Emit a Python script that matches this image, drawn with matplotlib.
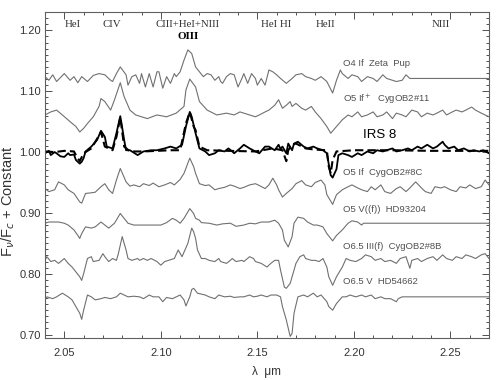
import numpy as np
import matplotlib
matplotlib.use('Agg')
import matplotlib.pyplot as plt
from matplotlib.ticker import MultipleLocator

# --------------------------------------------------------------
# spectra (wavelength in micron, normalised flux + offset)
# --------------------------------------------------------------

zp_lam = [2.040, 2.042, 2.044, 2.046, 2.050, 2.053, 2.055, 2.057, 2.059, 2.062,
          2.065, 2.068, 2.071, 2.074, 2.075, 2.077, 2.079, 2.082, 2.083, 2.085,
          2.087, 2.089, 2.090, 2.092, 2.094, 2.096, 2.098, 2.099, 2.101, 2.103,
          2.105, 2.107, 2.108, 2.110, 2.112, 2.114, 2.116, 2.118, 2.122, 2.124,
          2.126, 2.128, 2.130, 2.131, 2.132, 2.134, 2.136, 2.138, 2.140, 2.142,
          2.143, 2.145, 2.147, 2.149, 2.150, 2.152, 2.154, 2.156, 2.158, 2.160,
          2.162, 2.165, 2.168, 2.170, 2.173, 2.175, 2.178, 2.180, 2.183, 2.186,
          2.189, 2.191, 2.193, 2.194, 2.197, 2.199, 2.202, 2.204, 2.207, 2.210,
          2.212, 2.215, 2.217, 2.220, 2.222, 2.225, 2.227, 2.229, 2.270]
zp_flux = [1.124, 1.118, 1.127, 1.116, 1.129, 1.118, 1.124, 1.114, 1.124, 1.116,
           1.126, 1.129, 1.127, 1.118, 1.116, 1.129, 1.140, 1.127, 1.110, 1.124,
           1.127, 1.113, 1.129, 1.107, 1.129, 1.107, 1.132, 1.132, 1.105, 1.124,
           1.113, 1.129, 1.124, 1.132, 1.151, 1.168, 1.162, 1.140, 1.124, 1.129,
           1.127, 1.118, 1.124, 1.116, 1.113, 1.124, 1.129, 1.127, 1.107, 1.121,
           1.129, 1.113, 1.129, 1.121, 1.110, 1.121, 1.110, 1.135, 1.132, 1.127,
           1.121, 1.113, 1.121, 1.127, 1.129, 1.124, 1.121, 1.118, 1.124, 1.116,
           1.097, 1.118, 1.135, 1.129, 1.121, 1.127, 1.124, 1.116, 1.124, 1.121,
           1.116, 1.127, 1.121, 1.118, 1.116, 1.118, 1.127, 1.121, 1.121]

c11_lam = [2.040, 2.043, 2.046, 2.049, 2.053, 2.056, 2.058, 2.060, 2.062, 2.065,
           2.068, 2.069, 2.071, 2.074, 2.076, 2.079, 2.081, 2.084, 2.087, 2.093,
           2.098, 2.103, 2.108, 2.112, 2.113, 2.115, 2.118, 2.120, 2.124, 2.129,
           2.134, 2.138, 2.141, 2.143, 2.146, 2.149, 2.151, 2.154, 2.156, 2.159,
           2.161, 2.163, 2.165, 2.167, 2.168, 2.170, 2.173, 2.175, 2.178, 2.180,
           2.183, 2.186, 2.188, 2.191, 2.194, 2.197, 2.199, 2.202, 2.204, 2.207,
           2.210, 2.212, 2.215, 2.217, 2.220, 2.222, 2.225, 2.227, 2.230, 2.233,
           2.235, 2.238, 2.241, 2.243, 2.246, 2.248, 2.251, 2.253, 2.256, 2.258,
           2.261, 2.263, 2.266, 2.270]
c11_flux = [1.061, 1.066, 1.069, 1.061, 1.050, 1.042, 1.033, 1.039, 1.047, 1.058,
            1.075, 1.088, 1.083, 1.069, 1.086, 1.114, 1.091, 1.069, 1.061, 1.055,
            1.061, 1.058, 1.064, 1.075, 1.102, 1.120, 1.107, 1.083, 1.069, 1.061,
            1.064, 1.061, 1.066, 1.064, 1.061, 1.058, 1.061, 1.066, 1.069, 1.077,
            1.086, 1.072, 1.077, 1.083, 1.075, 1.080, 1.072, 1.069, 1.075, 1.066,
            1.055, 1.042, 1.031, 1.042, 1.053, 1.061, 1.058, 1.066, 1.058, 1.061,
            1.066, 1.058, 1.061, 1.066, 1.055, 1.064, 1.061, 1.058, 1.069, 1.066,
            1.058, 1.064, 1.061, 1.064, 1.069, 1.061, 1.066, 1.069, 1.066, 1.069,
            1.074, 1.069, 1.064, 1.058]

irs_lam = [2.040, 2.042, 2.043, 2.045, 2.046, 2.048, 2.050, 2.052, 2.053, 2.055,
           2.056, 2.058, 2.059, 2.060, 2.061, 2.064, 2.067, 2.069, 2.071, 2.072,
           2.075, 2.077, 2.079, 2.080, 2.081, 2.082, 2.084, 2.088, 2.091, 2.095,
           2.098, 2.102, 2.105, 2.108, 2.111, 2.113, 2.115, 2.116, 2.118, 2.120,
           2.123, 2.125, 2.128, 2.130, 2.133, 2.135, 2.137, 2.138, 2.141, 2.143,
           2.146, 2.149, 2.151, 2.154, 2.156, 2.159, 2.161, 2.162, 2.163, 2.165,
           2.166, 2.168, 2.169, 2.171, 2.174, 2.176, 2.179, 2.181, 2.184, 2.186,
           2.188, 2.189, 2.191, 2.192, 2.194, 2.197, 2.199, 2.202, 2.204, 2.207,
           2.210, 2.212, 2.215, 2.217, 2.220, 2.222, 2.225, 2.228, 2.230, 2.233,
           2.235, 2.238, 2.241, 2.243, 2.246, 2.247, 2.249, 2.252, 2.254, 2.257,
           2.260, 2.262, 2.265, 2.267, 2.270]
irs_flux = [0.998, 1.002, 0.995, 1.000, 0.998, 0.993, 0.992, 0.998, 0.995, 0.996,
            0.987, 0.981, 0.984, 0.990, 1.001, 1.009, 1.020, 1.035, 1.025, 1.009,
            1.006, 1.031, 1.059, 1.040, 1.020, 1.003, 1.003, 0.995, 1.001, 1.003,
            1.003, 1.006, 1.009, 1.006, 1.012, 1.042, 1.066, 1.058, 1.031, 1.006,
            1.001, 0.995, 0.998, 1.003, 1.001, 1.006, 1.001, 0.998, 1.006, 1.012,
            1.006, 1.001, 0.998, 1.009, 1.009, 1.003, 1.012, 1.005, 1.009, 0.998,
            1.014, 1.003, 1.014, 1.017, 1.009, 1.006, 1.009, 1.006, 1.003, 0.998,
            0.962, 0.958, 0.972, 0.995, 0.998, 0.995, 0.992, 0.998, 0.995, 1.001,
            0.998, 1.003, 1.001, 1.003, 1.006, 1.001, 1.003, 1.006, 1.003, 1.009,
            1.006, 1.012, 1.006, 1.009, 1.017, 1.012, 1.006, 1.009, 1.003, 1.006,
            1.001, 1.003, 1.001, 1.003, 0.998]

fit_lam = [2.040, 2.045, 2.050, 2.055, 2.056, 2.058, 2.060, 2.064, 2.067, 2.069,
           2.071, 2.075, 2.077, 2.079, 2.081, 2.084, 2.091, 2.098, 2.105, 2.110,
           2.113, 2.115, 2.117, 2.118, 2.120, 2.124, 2.135, 2.149, 2.158, 2.163,
           2.165, 2.166, 2.168, 2.170, 2.175, 2.180, 2.186, 2.187, 2.188, 2.189,
           2.191, 2.200, 2.220, 2.240, 2.270]
fit_flux = [1.001, 1.000, 1.002, 1.001, 0.995, 0.985, 0.998, 1.006, 1.022, 1.033,
            1.009, 1.003, 1.025, 1.057, 1.009, 1.001, 1.001, 1.002, 1.003, 1.003,
            1.047, 1.066, 1.042, 1.036, 1.009, 1.003, 1.002, 1.001, 1.006, 1.003,
            0.985, 1.003, 1.012, 1.014, 1.006, 1.004, 1.003, 0.976, 0.965, 0.987,
            1.001, 1.003, 1.003, 1.002, 1.002]

c8c_lam = [2.040, 2.042, 2.045, 2.047, 2.050, 2.052, 2.055, 2.058, 2.059, 2.061,
           2.064, 2.066, 2.069, 2.071, 2.073, 2.075, 2.077, 2.079, 2.082, 2.084,
           2.086, 2.089, 2.091, 2.094, 2.096, 2.099, 2.102, 2.105, 2.107, 2.110,
           2.112, 2.115, 2.117, 2.118, 2.120, 2.123, 2.125, 2.128, 2.130, 2.133,
           2.136, 2.138, 2.141, 2.143, 2.146, 2.149, 2.151, 2.154, 2.156, 2.158,
           2.160, 2.161, 2.163, 2.165, 2.168, 2.170, 2.173, 2.175, 2.178, 2.180,
           2.183, 2.185, 2.186, 2.189, 2.191, 2.194, 2.197, 2.199, 2.202, 2.204,
           2.207, 2.209, 2.211, 2.214, 2.216, 2.219, 2.222, 2.224, 2.227, 2.229,
           2.232, 2.235, 2.237, 2.240, 2.242, 2.245, 2.247, 2.250, 2.253, 2.255,
           2.258, 2.260, 2.263, 2.266, 2.268, 2.270]
c8c_flux = [0.940, 0.935, 0.938, 0.951, 0.946, 0.938, 0.932, 0.918, 0.916, 0.932,
            0.933, 0.934, 0.943, 0.948, 0.938, 0.932, 0.954, 0.973, 0.951, 0.944,
            0.946, 0.943, 0.948, 0.945, 0.949, 0.943, 0.946, 0.950, 0.946, 0.955,
            0.965, 0.990, 0.976, 0.965, 0.948, 0.945, 0.946, 0.938, 0.940, 0.942,
            0.946, 0.944, 0.940, 0.942, 0.946, 0.948, 0.945, 0.940, 0.946, 0.957,
            0.946, 0.938, 0.926, 0.932, 0.940, 0.948, 0.953, 0.946, 0.943, 0.950,
            0.954, 0.946, 0.930, 0.914, 0.930, 0.938, 0.943, 0.946, 0.941, 0.938,
            0.935, 0.943, 0.938, 0.946, 0.935, 0.932, 0.940, 0.943, 0.935, 0.941,
            0.951, 0.941, 0.935, 0.932, 0.943, 0.941, 0.943, 0.938, 0.935, 0.943,
            0.941, 0.946, 0.940, 0.943, 0.954, 0.946]

h93_lam = [2.040, 2.042, 2.045, 2.047, 2.050, 2.052, 2.055, 2.057, 2.058, 2.059,
           2.061, 2.064, 2.066, 2.069, 2.071, 2.073, 2.076, 2.079, 2.081, 2.083,
           2.086, 2.091, 2.096, 2.100, 2.103, 2.106, 2.108, 2.110, 2.112, 2.115,
           2.117, 2.118, 2.120, 2.121, 2.125, 2.129, 2.132, 2.136, 2.139, 2.143,
           2.146, 2.149, 2.152, 2.156, 2.159, 2.161, 2.163, 2.164, 2.166, 2.168,
           2.169, 2.171, 2.174, 2.176, 2.179, 2.181, 2.184, 2.186, 2.189, 2.191,
           2.194, 2.197, 2.199, 2.202, 2.204, 2.205, 2.270]
h93_flux = [0.883, 0.885, 0.885, 0.885, 0.883, 0.880, 0.872, 0.863, 0.858, 0.866,
            0.877, 0.875, 0.877, 0.885, 0.880, 0.875, 0.883, 0.899, 0.891, 0.883,
            0.880, 0.880, 0.880, 0.880, 0.884, 0.891, 0.888, 0.883, 0.891, 0.907,
            0.899, 0.891, 0.888, 0.884, 0.883, 0.880, 0.882, 0.883, 0.878, 0.880,
            0.883, 0.882, 0.885, 0.885, 0.888, 0.883, 0.872, 0.855, 0.844, 0.861,
            0.883, 0.893, 0.891, 0.885, 0.880, 0.880, 0.877, 0.866, 0.854, 0.863,
            0.872, 0.883, 0.887, 0.885, 0.880, 0.883, 0.883]

c8b_lam = [2.040, 2.041, 2.043, 2.045, 2.047, 2.050, 2.052, 2.054, 2.056, 2.058,
           2.059, 2.060, 2.062, 2.064, 2.065, 2.068, 2.070, 2.071, 2.073, 2.075,
           2.077, 2.078, 2.080, 2.082, 2.083, 2.085, 2.088, 2.089, 2.091, 2.093,
           2.095, 2.098, 2.100, 2.102, 2.104, 2.107, 2.109, 2.111, 2.114, 2.116,
           2.117, 2.118, 2.119, 2.121, 2.123, 2.125, 2.128, 2.130, 2.131, 2.134,
           2.136, 2.137, 2.139, 2.142, 2.143, 2.146, 2.148, 2.149, 2.152, 2.155,
           2.157, 2.159, 2.161, 2.162, 2.164, 2.165, 2.167, 2.168, 2.170, 2.172,
           2.174, 2.175, 2.178, 2.180, 2.182, 2.184, 2.186, 2.187, 2.189, 2.191,
           2.194, 2.196, 2.198, 2.201, 2.204, 2.206, 2.209, 2.211, 2.214, 2.216,
           2.219, 2.222, 2.224, 2.227, 2.229, 2.230, 2.233, 2.235, 2.238, 2.241,
           2.243, 2.246, 2.248, 2.251, 2.253, 2.256, 2.258, 2.261, 2.263, 2.266,
           2.268, 2.270]
c8b_flux = [0.822, 0.828, 0.820, 0.822, 0.817, 0.825, 0.817, 0.811, 0.803, 0.795,
            0.789, 0.800, 0.825, 0.828, 0.820, 0.822, 0.833, 0.828, 0.820, 0.825,
            0.822, 0.833, 0.861, 0.839, 0.825, 0.822, 0.825, 0.822, 0.825, 0.822,
            0.825, 0.820, 0.814, 0.820, 0.822, 0.825, 0.839, 0.828, 0.850, 0.875,
            0.869, 0.858, 0.839, 0.825, 0.825, 0.822, 0.820, 0.825, 0.820, 0.817,
            0.822, 0.825, 0.820, 0.822, 0.820, 0.828, 0.825, 0.820, 0.817, 0.811,
            0.817, 0.822, 0.822, 0.806, 0.778, 0.776, 0.784, 0.795, 0.817, 0.828,
            0.831, 0.825, 0.822, 0.822, 0.820, 0.825, 0.811, 0.795, 0.781, 0.795,
            0.811, 0.825, 0.822, 0.820, 0.825, 0.831, 0.828, 0.822, 0.825, 0.820,
            0.822, 0.817, 0.825, 0.828, 0.809, 0.822, 0.825, 0.820, 0.825, 0.828,
            0.822, 0.831, 0.825, 0.822, 0.828, 0.825, 0.831, 0.828, 0.825, 0.831,
            0.833, 0.825]

h54_lam = [2.040, 2.041, 2.044, 2.046, 2.049, 2.052, 2.054, 2.056, 2.058, 2.059,
           2.060, 2.062, 2.064, 2.066, 2.069, 2.071, 2.074, 2.077, 2.079, 2.081,
           2.083, 2.086, 2.089, 2.091, 2.094, 2.096, 2.099, 2.101, 2.103, 2.106,
           2.108, 2.110, 2.112, 2.113, 2.115, 2.116, 2.117, 2.119, 2.123, 2.125,
           2.128, 2.130, 2.133, 2.136, 2.138, 2.141, 2.143, 2.146, 2.148, 2.150,
           2.152, 2.155, 2.157, 2.160, 2.162, 2.163, 2.165, 2.167, 2.168, 2.169,
           2.171, 2.174, 2.176, 2.179, 2.181, 2.183, 2.186, 2.187, 2.189, 2.191,
           2.194, 2.196, 2.198, 2.201, 2.204, 2.206, 2.209, 2.211, 2.214, 2.216,
           2.219, 2.222, 2.223, 2.225, 2.270]
h54_flux = [0.757, 0.762, 0.759, 0.762, 0.768, 0.762, 0.757, 0.746, 0.735, 0.725,
            0.740, 0.765, 0.762, 0.757, 0.759, 0.761, 0.759, 0.762, 0.768, 0.765,
            0.762, 0.763, 0.762, 0.759, 0.765, 0.762, 0.762, 0.754, 0.761, 0.759,
            0.762, 0.765, 0.757, 0.747, 0.762, 0.774, 0.776, 0.768, 0.765, 0.762,
            0.759, 0.765, 0.762, 0.763, 0.761, 0.762, 0.762, 0.765, 0.762, 0.763,
            0.765, 0.762, 0.765, 0.765, 0.762, 0.746, 0.724, 0.697, 0.702, 0.735,
            0.762, 0.765, 0.762, 0.768, 0.762, 0.765, 0.754, 0.746, 0.740, 0.751,
            0.762, 0.762, 0.765, 0.762, 0.765, 0.762, 0.765, 0.759, 0.762, 0.759,
            0.759, 0.754, 0.759, 0.762, 0.762]

# star names and where they sit (flux level of the label)
star_names = ['O4 If  Zeta  Pup', 'O5 If$^+$  CygOB2#11', 'O5 If  CygOB2#8C',
              'O5 V((f))  HD93204', 'O6.5 III(f)  CygOB2#8B', 'O6.5 V  HD54662']
star_label_y = [1.146, 1.086, 0.966, 0.906, 0.845, 0.788]

# line identifications along the top
line_names = ['HeI', 'CIV', 'CIII+HeI+NIII', 'HeI HI', 'HeII', 'NIII']
line_lam = [2.0545, 2.0745, 2.1140, 2.1595, 2.1855, 2.2450]

# --------------------------------------------------------------
# figure
# --------------------------------------------------------------

grey = '#707070'
fig = plt.figure(figsize = (5, 3.8), dpi = 100)
ax = fig.add_axes([0.09, 0.11, 0.888, 0.858])

for lam, flux in [(zp_lam, zp_flux), (c11_lam, c11_flux), (c8c_lam, c8c_flux),
                  (h93_lam, h93_flux), (c8b_lam, c8b_flux), (h54_lam, h54_flux)]:
    ax.plot(lam, flux, c = grey, lw = 0.8)

ax.plot(irs_lam, irs_flux, c = 'k', lw = 1.3)
ax.plot(fit_lam, fit_flux, c = 'k', lw = 1.5, ls = (0, (4, 2)))

for name, y in zip(star_names, star_label_y):
    ax.text(2.1945, y, name, fontsize = 6.8, color = '#505050',
            family = 'Liberation Sans', va = 'center')
ax.text(2.2045, 1.028, 'IRS 8', fontsize = 9.5, color = 'k',
        family = 'Liberation Sans', va = 'center')

for name, lam in zip(line_names, line_lam):
    ax.text(lam, 1.2105, name, fontsize = 7.8, color = '#303030',
            family = 'Liberation Serif', ha = 'center', va = 'center')
ax.text(2.1140, 1.1905, 'OIII', fontsize = 8, fontweight = 'bold',
        family = 'Liberation Serif', ha = 'center', va = 'center')

ax.set_xlim(2.04, 2.27)
ax.set_ylim(0.694, 1.230)
ax.xaxis.set_major_locator(MultipleLocator(0.05))
ax.xaxis.set_minor_locator(MultipleLocator(0.01))
ax.yaxis.set_major_locator(MultipleLocator(0.10))
ax.yaxis.set_minor_locator(MultipleLocator(0.01))
ax.xaxis.set_major_formatter(plt.FormatStrFormatter('%.2f'))
ax.yaxis.set_major_formatter(plt.FormatStrFormatter('%.2f'))
ax.tick_params(which = 'both', direction = 'in', top = True, right = True,
               colors = '#505050', labelcolor = '#333333', labelsize = 8, width = 0.7)
ax.tick_params(which = 'major', length = 5)
ax.tick_params(which = 'minor', length = 2.5)
for s in ax.spines.values():
    s.set_color('#606060')
    s.set_linewidth(0.8)
for lbl in ax.get_xticklabels() + ax.get_yticklabels():
    lbl.set_family('Liberation Sans')
ax.tick_params(axis = 'x', pad = 7)
ax.tick_params(axis = 'y', pad = 3)

ax.set_xlabel('λ  μm', fontsize = 8.5, family = 'Liberation Sans', color = '#333333')
ax.xaxis.set_label_coords(0.5, -0.085)
ax.set_ylabel('F$_\\nu$/F$_c$ + Constant', fontsize = 10.5, family = 'Liberation Sans',
              color = '#333333')
ax.yaxis.set_label_coords(-0.064, 0.42)

fig.savefig('out.png', dpi = 100)
